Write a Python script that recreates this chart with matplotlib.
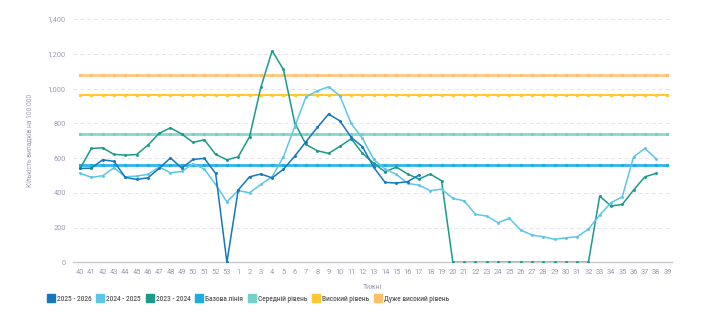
import numpy as np
import matplotlib.pyplot as plt
from matplotlib.ticker import FuncFormatter

plt.rcParams['font.family'] = ['Roboto', 'DejaVu Sans']

weeks = [str(w) for w in list(range(40, 54)) + list(range(1, 40))]

# 2025 - 2026 season (weeks 40..17)
s2526 = [540, 542, 590, 581, 489, 477, 486, 540, 601, 542, 592, 598, 512, 0,
         416, 492, 508, 486, 535, 611, 694, 776, 853, 814, 719, 665, 546, 460,
         456, 464, 502]
# 2024 - 2025 season (weeks 40..38)
s2425 = [512, 489, 498, 544, 492, 496, 506, 548, 515, 523, 567, 536, 448, 348,
         413, 400, 448, 492, 607, 780, 952, 987, 1010, 958, 799, 713, 592, 536,
         506, 454, 444, 412, 421, 368, 354, 276, 266, 228, 253, 186, 157, 147,
         132, 141, 147, 191, 272, 343, 377, 607, 655, 596]
# 2023 - 2024 season (weeks 40..38)
s2324 = [540, 655, 659, 621, 617, 620, 674, 742, 774, 738, 690, 705, 621, 590,
         607, 722, 1006, 1217, 1110, 803, 678, 642, 627, 667, 711, 627, 569, 521,
         548, 508, 479, 508, 469, 0, 0, 0, 0, 0, 0, 0, 0, 0, 0, 0, 0, 0,
         381, 324, 333, 416, 492, 512]

baseline = 561
medium = 738
high = 960
very_high = 1079

c2526 = '#1477c0'
c2425 = '#5cc6e6'
c2324 = '#1b9a8c'
cbase = '#1aaee4'
cmed = '#74d0c8'
chigh = '#ffc830'
cvhigh = '#ffbe6a'

fig = plt.figure(figsize=(7.13, 3.34), dpi=100)
ax = fig.add_axes([0.102, 0.2147, 0.8405, 0.7283])

x = np.arange(len(weeks))

ax.plot(x, [very_high] * len(x), color=cvhigh, lw=2.0, alpha=0.85, marker='s', ms=1.3, zorder=2)
ax.plot(x, [high] * len(x), color=chigh, lw=1.4, marker='s', ms=1.3, zorder=2)
ax.plot(x, [medium] * len(x), color=cmed, lw=2.0, alpha=0.85, marker='s', ms=1.3, zorder=2)
ax.plot(x, [baseline] * len(x), color=cbase, lw=2.0, alpha=0.9, marker='s', ms=1.3, zorder=2)

ax.plot(x[:len(s2324)], s2324, color=c2324, lw=1.1, marker='o', ms=1.1, zorder=3)
ax.plot(x[:len(s2425)], s2425, color=c2425, lw=1.1, marker='o', ms=1.1, zorder=3)
ax.plot(x[:len(s2526)], s2526, color=c2526, lw=1.1, marker='o', ms=1.1, zorder=4)

ax.set_xlim(-0.65, 52.4)
ax.set_ylim(0, 1400)
ax.set_xticks(x)
ax.set_xticklabels(weeks)
ax.set_yticks(np.arange(0, 1401, 200))
ax.yaxis.set_major_formatter(FuncFormatter(lambda v, p: f'{int(v):,}'))

ax.grid(axis='y', color='#e3e3ea', ls=(0, (4, 3)), lw=0.7)
ax.set_axisbelow(True)
for side in ['top', 'right', 'left']:
    ax.spines[side].set_visible(False)
ax.spines['bottom'].set_color('#c8c8cc')
ax.spines['bottom'].set_linewidth(1.0)
ax.tick_params(axis='both', length=0, labelsize=5.3, colors='#9a9ab4', pad=4.5)
ax.tick_params(axis='y', pad=5)

ax.set_xlabel('Тижні', fontsize=5.0, color='#9a9ab4', labelpad=6)
ax.set_ylabel('Кількість випадків на 100 000', fontsize=4.8, color='#9a9ab4', labelpad=10)

labels = ['2025 - 2026', '2024 - 2025', '2023 - 2024', 'Базова лінія',
          'Середній рівень', 'Високий рівень', 'Дуже високий рівень']
colors = [c2526, c2425, c2324, cbase, cmed, chigh, cvhigh]
handles = [plt.Line2D([], [], ls='', marker='s', ms=5.3, color=c, mec=c) for c in colors]
fig.legend(handles, labels, loc='center left', bbox_to_anchor=(0.058, 0.106), ncol=7,
           frameon=False, handletextpad=0.3, columnspacing=0.75, handlelength=1.2,
           labelcolor='#555555', prop={'weight': 'medium', 'size': 4.7})

fig.savefig('out.png', dpi=100)
